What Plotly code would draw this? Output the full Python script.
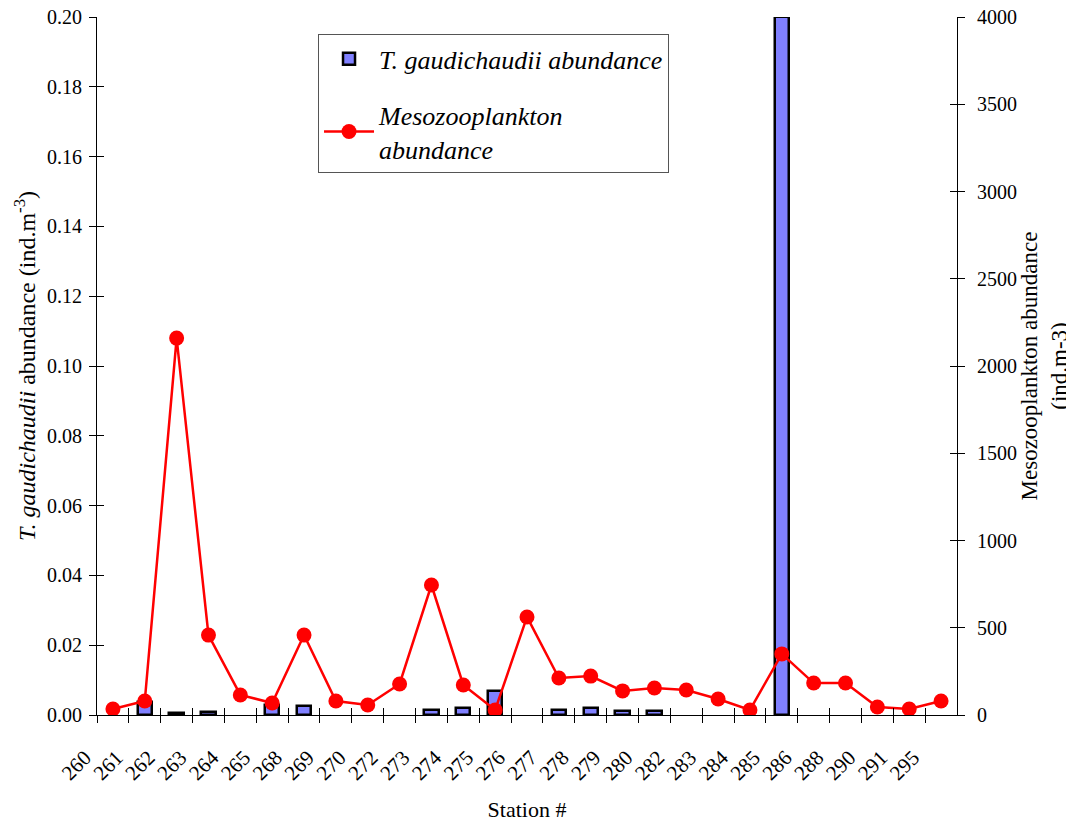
import plotly.graph_objects as go

stations = ["260", "261", "262", "263", "264", "265", "268", "269", "270", "272",
            "273", "274", "275", "276", "277", "278", "279", "280", "282", "283",
            "284", "285", "286", "288", "290", "291", "295"]
# None = no bar at that station
t_gaudichaudii = [None, 0.0038, 0.0006, 0.001, None, 0.003, 0.0027, None, None, None,
                  0.0014, 0.0021, 0.007, None, 0.0014, 0.002, 0.0011, 0.0011, None, None,
                  None, 0.2, None, None, None, None, None]
mesozooplankton = [34, 80, 2160, 458, 115, 69, 458, 80, 57, 178,
                   745, 172, 29, 562, 212, 223, 138, 155, 143, 92,
                   29, 350, 183, 183, 46, 34, 80]

FONT = "Liberation Serif, Times New Roman, serif"
xpos = list(range(len(stations)))
xrange_ = [-0.5, len(stations) - 0.5]
tickvals = [i - 0.5 for i in xpos]
y1range = [0, 0.2]
y2range = [0, 4000]

fig = go.Figure()
fig.add_trace(go.Bar(
    x=xpos, y=t_gaudichaudii, width=0.45,
    marker=dict(color="#8080FF", line=dict(color="black", width=2.5)),
    name="<i>T. gaudichaudii abundance</i>", legendgroup="a",
    xaxis="x", yaxis="y",
))
fig.add_trace(go.Scatter(
    x=xpos, y=mesozooplankton, mode="lines+markers",
    line=dict(color="#FF0000", width=2.5),
    marker=dict(color="#FF0000", size=15),
    name="<i>Mesozooplankton<br>abundance</i>", legendgroup="b",
    xaxis="x", yaxis="y2",
))
# invisible companions so that the helper axes (cross ticks, right labels) are drawn
for xa, ya, yv in [("x2", "y3", t_gaudichaudii), ("x", "y4", mesozooplankton),
                   ("x", "y5", mesozooplankton)]:
    fig.add_trace(go.Scatter(x=xpos, y=yv, mode="none", xaxis=xa, yaxis=ya,
                             hoverinfo="skip", showlegend=False))

tick_common = dict(ticklen=7, tickcolor="black", tickwidth=1)
bare = dict(automargin=False, showline=False, showgrid=False, zeroline=False)

# page body has an 8px default margin: figure is sized/offset to compensate
fig.update_layout(
    width=1066, height=819,
    margin=dict(l=89, r=117, t=9, b=112),
    paper_bgcolor="white", plot_bgcolor="white",
    font=dict(family=FONT, color="black", size=20),
    showlegend=True,
    bargap=0,
    legend=dict(
        x=0.257, y=0.975, xanchor="left", yanchor="top",
        bgcolor="white", bordercolor="#555555", borderwidth=1,
        font=dict(family=FONT, size=26, color="black"),
        tracegroupgap=19, traceorder="grouped", itemwidth=50,
    ),
    xaxis=dict(
        range=xrange_, automargin=False,
        tickmode="array", tickvals=tickvals, ticktext=stations,
        tickangle=-45, ticks="outside", **tick_common,
        ticklabelstandoff=14, ticklabelshift=-12,
        showline=True, linecolor="black", linewidth=1,
        showgrid=False, zeroline=False,
        tickfont=dict(size=21),
        title=dict(text="Station #", font=dict(size=22), standoff=17),
    ),
    xaxis2=dict(
        range=xrange_, overlaying="x", anchor="y3", **bare,
        tickmode="array", tickvals=tickvals + [xrange_[1]],
        ticks="inside", **tick_common, showticklabels=False,
    ),
    yaxis=dict(
        range=y1range, automargin=False,
        tickmode="linear", tick0=0, dtick=0.02, tickformat=".2f",
        ticks="outside", **tick_common, ticklabelstandoff=3,
        ticklabeloverflow="allow",
        showline=True, linecolor="black", linewidth=1,
        showgrid=False, zeroline=False,
        tickfont=dict(size=20),
        title=dict(text="<i>T. gaudichaudii</i> abundance (ind.m<sup>-3</sup>)",
                   font=dict(size=24), standoff=4),
    ),
    yaxis2=dict(
        range=y2range, overlaying="y", side="right", anchor="x", automargin=False,
        tickmode="linear", tick0=0, dtick=500,
        ticks="outside", **tick_common, showticklabels=False,
        showline=True, linecolor="black", linewidth=1,
        showgrid=False, zeroline=False,
    ),
    yaxis3=dict(
        range=y1range, overlaying="y", side="left", anchor="x2", **bare,
        tickmode="linear", tick0=0, dtick=0.02,
        ticks="inside", **tick_common, showticklabels=False,
    ),
    yaxis4=dict(
        range=y2range, overlaying="y", side="right", anchor="x", **bare,
        tickmode="linear", tick0=0, dtick=500,
        ticks="inside", **tick_common, showticklabels=False,
    ),
    yaxis5=dict(
        range=y2range, overlaying="y", side="right", anchor="x", **bare,
        tickmode="linear", tick0=0, dtick=500, tickformat="d",
        ticks="outside", ticklen=15, tickcolor="rgba(0,0,0,0)",
        ticklabeloverflow="allow",
        tickfont=dict(size=20),
        title=dict(text="Mesozooplankton abundance<br>(ind.m-3)",
                   font=dict(size=23), standoff=0),
    ),
)

fig.write_html("out.html")
